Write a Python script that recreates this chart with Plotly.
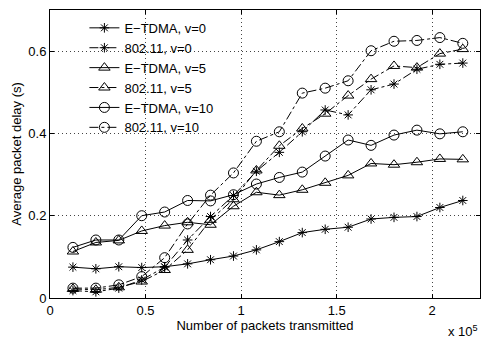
import plotly.graph_objects as go

# Number of packets transmitted (in units of 10^5)
packets = [0.12, 0.24, 0.36, 0.48, 0.60, 0.72, 0.84, 0.96, 1.08, 1.20,
           1.32, 1.44, 1.56, 1.68, 1.80, 1.92, 2.04, 2.16]

etdma_v0 = [0.075, 0.071, 0.076, 0.074, 0.076, 0.083, 0.093, 0.102, 0.117, 0.137,
            0.159, 0.167, 0.172, 0.192, 0.196, 0.198, 0.220, 0.237]
wifi_v0 = [0.018, 0.015, 0.024, 0.044, 0.075, 0.141, 0.198, 0.249, 0.308, 0.354,
           0.404, 0.457, 0.445, 0.506, 0.520, 0.556, 0.568, 0.571]
etdma_v5 = [0.113, 0.135, 0.140, 0.163, 0.176, 0.184, 0.178, 0.223, 0.257, 0.250,
            0.263, 0.280, 0.298, 0.327, 0.324, 0.330, 0.338, 0.337]
wifi_v5 = [0.022, 0.020, 0.026, 0.040, 0.068, 0.117, 0.190, 0.240, 0.310, 0.370,
           0.412, 0.448, 0.492, 0.532, 0.564, 0.560, 0.594, 0.605]
etdma_v10 = [0.123, 0.141, 0.141, 0.200, 0.209, 0.237, 0.236, 0.251, 0.277, 0.293,
             0.306, 0.345, 0.384, 0.371, 0.396, 0.408, 0.399, 0.404]
wifi_v10 = [0.024, 0.024, 0.032, 0.052, 0.098, 0.180, 0.250, 0.304, 0.381, 0.404,
            0.498, 0.510, 0.528, 0.601, 0.624, 0.626, 0.633, 0.619]

series = [
    ("E\u2212TDMA, v=0", etdma_v0, "solid", "asterisk-open", 8),
    ("802.11, v=0", wifi_v0, "dashdot", "asterisk-open", 8),
    ("E\u2212TDMA, v=5", etdma_v5, "solid", "triangle-up-open", 10),
    ("802.11, v=5", wifi_v5, "dashdot", "triangle-up-open", 10),
    ("E\u2212TDMA, v=10", etdma_v10, "solid", "circle-open", 10),
    ("802.11, v=10", wifi_v10, "dashdot", "circle-open", 10),
]

xticks = [0, 0.5, 1, 1.5, 2]
xticklabels = ["0", "0.5", "1", "1.5", "2"]
yticks = [0, 0.2, 0.4, 0.6]
yticklabels = ["0", "0.2", "0.4", "0.6"]

fig = go.Figure()
for name, vals, dash, sym, size in series:
    fig.add_trace(go.Scatter(
        x=packets, y=vals, name=name, mode="lines+markers",
        line=dict(color="black", width=1, dash=dash),
        marker=dict(symbol=sym, size=size, color="black",
                    line=dict(color="black", width=1)),
    ))

font = dict(family="Liberation Sans, Arial, sans-serif", size=13, color="black")

fig.update_layout(
    width=481, height=339,
    margin=dict(l=50, r=1, t=10, b=41),
    paper_bgcolor="white", plot_bgcolor="white",
    font=font,
    showlegend=True,
    legend=dict(x=0.08, y=0.99, xanchor="left", yanchor="top",
                bgcolor="rgba(255,255,255,0)", borderwidth=0,
                font=font, tracegroupgap=0, itemwidth=30),
    xaxis=dict(range=[0, 2.25], tickvals=xticks, ticktext=xticklabels,
               showgrid=True, gridcolor="#444", gridwidth=1, griddash="1px,3px",
               zeroline=False, showline=True, linecolor="black", linewidth=1,
               mirror="ticks", ticks="inside", ticklen=4, tickcolor="black",
               title=dict(text="Number of packets transmitted", font=font, standoff=2),
               tickfont=font),
    yaxis=dict(range=[0, 0.7], tickvals=yticks, ticktext=yticklabels,
               showgrid=True, gridcolor="#444", gridwidth=1, griddash="1px,3px",
               zeroline=False, showline=True, linecolor="black", linewidth=1,
               mirror="ticks", ticks="inside", ticklen=4, tickcolor="black",
               title=dict(text="Average packet delay (s)", font=font, standoff=3),
               tickfont=font),
    annotations=[dict(text="x 10<sup>5</sup>", xref="paper", yref="paper",
                      x=1.0, y=-0.08, xanchor="right", yanchor="top",
                      showarrow=False, font=font)],
)

fig.write_html("out.html")
